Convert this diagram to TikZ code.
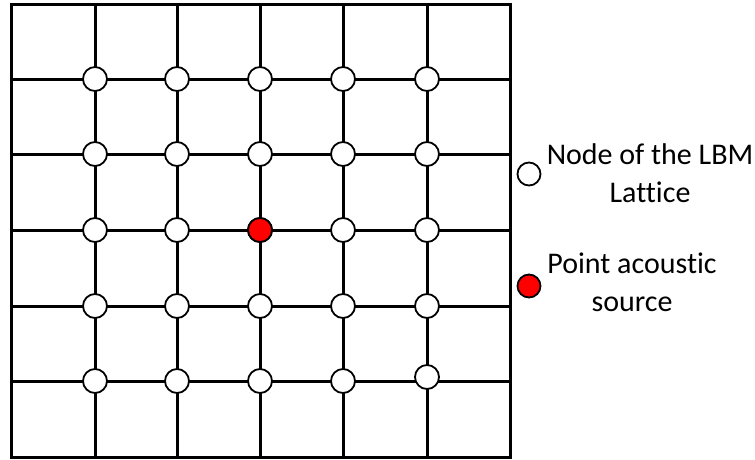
\documentclass[tikz,border=0pt]{standalone}
\usepackage{fontspec}
\setmainfont{Carlito}[Ligatures=NoCommon]
\begin{document}
\begin{tikzpicture}[x=1pt,y=-1pt,
  gridline/.style={line width=3pt,black},
  latnode/.style={circle,draw=black,line width=1.8pt,fill=white,minimum size=24pt,inner sep=0pt},
  srcnode/.style={latnode,fill=red},
  legtext/.style={font=\fontsize{30}{38}\selectfont,align=center,inner sep=0pt}]
\useasboundingbox (0,0) rectangle (755,459);
% outer frame
\node[draw=black,line width=3pt,minimum width=499pt,minimum height=453pt,inner sep=0pt] (frame) at (260.5,230.5) {};
% grid lines
\foreach \x/\n in {95/1,177/2,260/3,343/4,427/5}{
  \coordinate (vt\n) at (\x,4);
  \coordinate (vb\n) at (\x,457);
  \draw[gridline] (vt\n) -- (vb\n);
}
\foreach \y/\n in {79/1,154/2,230/3,306/4,381/5}{
  \coordinate (hl\n) at (11,\y);
  \coordinate (hr\n) at (510,\y);
  \draw[gridline] (hl\n) -- (hr\n);
}
% lattice nodes
\foreach \x/\i in {95/1,177/2,260/3,343/4,427/5}{
  \foreach \y/\j in {79/1,154/2,230/3,306/4}{
    \node[latnode] (n\i\j) at (\x,\y) {};
  }
}
\foreach \x/\i in {95/1,177/2,260/3,343/4}{
  \node[latnode] (n\i5) at (\x,381) {};
}
\node[latnode] (n55) at (427,377) {};
\node[srcnode] (n33) at (260,230) {};
% legend
\node[latnode,minimum size=23pt] (legwhite) at (529,174) {};
\node[srcnode,minimum size=23pt] (legred) at (529,286) {};
\node[legtext,anchor=north] (t1) at (650,143) {Node of the LBM\\Lattice};
\node[legtext,anchor=north] (t2) at (632,253) {Point acoustic\\source};
\end{tikzpicture}
\end{document}
